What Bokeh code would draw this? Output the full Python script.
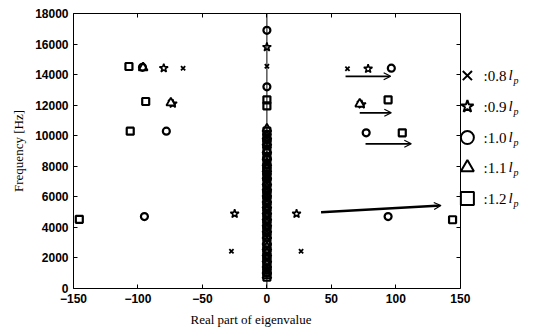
from bokeh.plotting import figure
from bokeh.models import (Range1d, LinearAxis, FixedTicker, Label, Arrow,
                          OpenHead, Span, Title)
from bokeh.embed import file_html
from bokeh.resources import INLINE

# ---- eigenvalues: real part (off-axis modes) and frequency [Hz] ----
# 0.8 l_p
re_08 = [-65.0, 62.5, -75.0, 71.5, -27.5, 26.5]
im_08 = [14420, 14380, 12200, 12120, 2440, 2440]
axis_08 = [14550, 10250, 9900, 9400, 8950, 8500, 8050, 7600, 7250, 6850,
           6550, 6100, 5750, 5400, 5000, 4600, 4200, 3800, 3450, 3100, 2650,
           2250, 1850, 1500, 1100, 800]
# 0.9 l_p
re_09 = [-80.0, 78.5, -73.0, 73.5, -25.0, 23.0]
im_09 = [14420, 14380, 12100, 12050, 4890, 4890]
axis_09 = [15800, 10000, 9600, 9150, 8700, 8300, 7850, 7450, 7050, 6700,
           6300, 5900, 5550, 5150, 4750, 4350, 3950, 3600, 3200, 2750, 2350,
           1950, 1600, 1200, 900]
# 1.0 l_p
re_10 = [-96.5, 96.5, -78.0, 77.0, -95.0, 94.0]
im_10 = [14480, 14420, 10300, 10190, 4710, 4710]
axis_10 = [16900, 13200, 10100, 9750, 9350, 8900, 8500, 7900, 7500, 7150,
           6750, 6350, 5950, 5600, 5200, 4850, 4400, 4000, 3650, 3300, 2900,
           2500, 2100, 1700, 1350, 1000]
# 1.1 l_p
re_11 = [-96.0, -74.5, 72.0]
im_11 = [14450, 12150, 12080]
axis_11 = [10450, 9950, 9550, 9050, 8600, 8200, 7800, 7350, 6950, 6600,
           6200, 5800, 5450, 5050, 4650, 4250, 3850, 3450, 3050, 2700, 2300,
           1900, 1550, 1150, 850]
# 1.2 l_p
re_12 = [-107.0, -94.0, 94.0, -106.0, 105.0, -145.5, 144.0]
im_12 = [14530, 12240, 12350, 10300, 10190, 4530, 4500]
axis_12 = [12350, 11950, 10300, 9800, 9450, 9050, 8650, 8400, 7950, 7650,
           7300, 6900, 6450, 6100, 5700, 5300, 4900, 4500, 4100, 3700, 3350,
           2900, 2500, 2100, 1750, 1350, 1050, 750]

# ---- axes ----
x_ticks = [-150, -100, -50, 0, 50, 100, 150]
y_ticks = [0, 2000, 4000, 6000, 8000, 10000, 12000, 14000, 16000, 18000]
x_lo, x_hi = -150, 150
x_view_hi = 206.0          # room on the right of the box for the key

# ---- key ----
key_marker = ["x", "star", "circle", "triangle", "square"]
key_text = [":0.8", ":0.9", ":1.0", ":1.1", ":1.2"]
key_y = [13940, 11910, 9880, 7920, 5890]
key_x = 155.5
key_text_x = 168.0

# ---- arrows (start x, start y, end x, end y) ----
arrow_x0 = [61.0, 72.0, 76.5, 42.0]
arrow_y0 = [13890, 11500, 9470, 4990]
arrow_x1 = [96.0, 96.5, 112.0, 135.0]
arrow_y1 = [13890, 11500, 9470, 5430]
arrow_w = [1.8, 1.8, 1.8, 2.6]

TICK_FONT = "Liberation Sans"
SERIF = "Liberation Serif"

p = figure(width=536, height=332, output_backend="svg", toolbar_location=None,
           x_range=Range1d(x_lo, x_view_hi), y_range=Range1d(0, 18000),
           min_border_left=73, min_border_right=4, min_border_top=13,
           min_border_bottom=44, y_axis_label="Frequency [Hz]")
p.grid.visible = False
p.outline_line_color = None
p.background_fill_color = "white"
p.border_fill_color = "white"

for ax in (p.xaxis[0], p.yaxis[0]):
    ax.major_tick_in = 4
    ax.major_tick_out = 0
    ax.minor_tick_line_color = None
    ax.axis_line_color = "black"
    ax.major_tick_line_color = "black"
    ax.major_label_text_font = TICK_FONT
    ax.major_label_text_font_style = "bold"
    ax.major_label_text_font_size = "12px"
    ax.major_label_text_color = "black"
    ax.major_label_standoff = 5
    ax.axis_label_text_font = SERIF
    ax.axis_label_text_font_style = "normal"
    ax.axis_label_text_font_size = "13px"
    ax.axis_label_text_color = "black"
p.xaxis[0].ticker = FixedTicker(ticks=x_ticks)
p.xaxis[0].bounds = (x_lo, x_hi)
p.yaxis[0].ticker = FixedTicker(ticks=y_ticks)
p.yaxis[0].axis_label_standoff = 6

# x-axis title, centred under the box rather than the whole frame
p.add_layout(Title(text="Real part of eigenvalue", align="left", offset=117,
                   text_font=SERIF, text_font_style="normal",
                   text_font_size="13px", text_color="black",
                   standoff=8), "below")

# box edges on top and right, ticks pointing inward, no labels
top = LinearAxis(ticker=FixedTicker(ticks=x_ticks), bounds=(x_lo, x_hi),
                 major_label_overrides={t: "" for t in x_ticks})
right = LinearAxis(ticker=FixedTicker(ticks=y_ticks), fixed_location=x_hi,
                   major_label_overrides={t: "" for t in y_ticks})
for ax in (top, right):
    ax.major_tick_in = 4
    ax.major_tick_out = 0
    ax.minor_tick_line_color = None
    ax.major_label_standoff = 0
    ax.axis_line_color = "black"
p.add_layout(top, "above")
p.add_layout(right, "right")

# imaginary axis
p.add_layout(Span(location=0, dimension="height", line_color="black",
                  line_width=1))

def on_axis(re, im, ax):
    return re + [0.0] * len(ax), im + ax

xs, ys = on_axis(re_08, im_08, axis_08)
p.scatter(xs, ys, marker="x", size=6, line_color="black", line_width=1.8)
xs, ys = on_axis(re_09, im_09, axis_09)
p.scatter(xs, ys, marker="star", size=9, line_color="black",
          fill_color="white", line_width=1.6)
xs, ys = on_axis(re_11, im_11, axis_11)
p.scatter(xs, ys, marker="triangle", size=9, line_color="black",
          fill_color="white", line_width=1.8)
xs, ys = on_axis(re_10, im_10, axis_10)
p.scatter(xs, ys, marker="circle", size=7, line_color="black",
          fill_color="white", fill_alpha=0, line_width=2.2)
xs, ys = on_axis(re_12, im_12, axis_12)
p.scatter(xs, ys, marker="square", size=7, line_color="black",
          fill_color="white", fill_alpha=0, line_width=2.2)

for x0, y0, x1, y1, w in zip(arrow_x0, arrow_y0, arrow_x1, arrow_y1, arrow_w):
    p.add_layout(Arrow(x_start=x0, y_start=y0, x_end=x1, y_end=y1,
                       line_width=w, line_color="black",
                       end=OpenHead(size=7, line_width=1.2,
                                    line_color="black")))

# key to the right of the box
for mk, txt, ky in zip(key_marker, key_text, key_y):
    p.scatter([key_x], [ky], marker=mk, size=13, line_color="black",
              fill_color="white", line_width=2)
    p.add_layout(Label(x=key_text_x, y=ky, text=txt, text_align="left",
                       text_baseline="middle", text_font=SERIF,
                       text_font_size="15px", text_color="black"))
    p.add_layout(Label(x=key_text_x, y=ky, x_offset=25, y_offset=1, text="l",
                       text_align="left", text_baseline="middle",
                       text_font=SERIF, text_font_style="italic",
                       text_font_size="15px", text_color="black"))
    p.add_layout(Label(x=key_text_x, y=ky, x_offset=30, y_offset=-5,
                       text="p", text_align="left", text_baseline="middle",
                       text_font=SERIF, text_font_style="italic",
                       text_font_size="10px", text_color="black"))

open("out.html", "w").write(file_html(p, INLINE))
